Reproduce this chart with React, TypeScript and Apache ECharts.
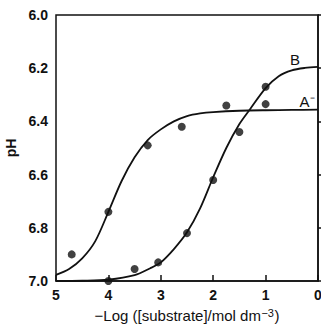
import React, { useEffect, useRef } from "react";
import * as echarts from "echarts";

// Curve A- (fitted line): [-log[S], pH]
const curveAX = [0, 0.5, 1.0, 1.5, 2.0, 2.25, 2.5, 2.75, 3.0, 3.25, 3.5, 3.75, 4.0, 4.25, 4.5, 4.75, 5];
const curveAY = [6.356, 6.357, 6.358, 6.36, 6.365, 6.37, 6.38, 6.4, 6.43, 6.47, 6.535, 6.625, 6.74, 6.85, 6.915, 6.955, 6.977];
// Curve B (fitted line)
const curveBX = [0, 0.25, 0.5, 0.75, 1.0, 1.3, 1.5, 1.75, 2.0, 2.25, 2.5, 2.75, 3.0, 3.2, 3.5, 4.0, 4.5, 5];
const curveBY = [6.195, 6.199, 6.208, 6.23, 6.275, 6.355, 6.41, 6.5, 6.61, 6.727, 6.817, 6.88, 6.93, 6.952, 6.978, 6.995, 6.999, 7.0];
// Measured points
const pointsAX = [4.7, 4.0, 3.25, 2.6, 1.75, 1.0];
const pointsAY = [6.9, 6.74, 6.49, 6.42, 6.34, 6.335];
const pointsBX = [4.0, 3.5, 3.05, 2.5, 2.0, 1.5, 1.0];
const pointsBY = [7.0, 6.955, 6.93, 6.82, 6.62, 6.44, 6.27];

const xTicks = [0, 1, 2, 3, 4, 5];
const yTicks = [6.0, 6.2, 6.4, 6.6, 6.8, 7.0];

const zip = (xs: number[], ys: number[]) => xs.map((x, i) => [x, ys[i]]);

export default function App() {
  const ref = useRef<HTMLDivElement>(null);
  useEffect(() => {
    const chart = echarts.init(ref.current!, null, { renderer: "svg" });
    const font = "Liberation Sans, Arial, sans-serif";
    chart.setOption({
      animation: false,
      grid: {
        left: 56,
        top: 15,
        right: 3,
        bottom: 43,
        containLabel: false,
        outerBoundsMode: "none",
        show: true,
        borderColor: "#111",
        borderWidth: 1.5,
      },
      xAxis: {
        type: "value",
        min: xTicks[0],
        max: xTicks[xTicks.length - 1],
        interval: 1,
        inverse: true,
        name: "{n|\u2212Log ([substrate]/mol dm}{s|\u22123}{n|)}",
        nameLocation: "middle",
        nameGap: 26,
        nameTextStyle: {
          fontFamily: font,
          fontSize: 15,
          color: "#111",
          rich: {
            n: { fontFamily: font, fontSize: 15, color: "#111", padding: [0, 0.5, 0, 0.5] },
            s: { fontFamily: font, fontSize: 11, color: "#111", verticalAlign: "top", padding: [0, 0, 6, 0] },
          },
        },
        axisLine: { show: true, lineStyle: { color: "#111", width: 1.5 } },
        axisTick: { show: true, inside: true, length: 6, lineStyle: { color: "#111", width: 1.5 } },
        axisLabel: { fontFamily: font, fontSize: 14, fontWeight: "bold", color: "#111", margin: 7 },
        splitLine: { show: false },
      },
      yAxis: {
        type: "value",
        min: yTicks[0],
        max: yTicks[yTicks.length - 1],
        interval: 0.2,
        inverse: true,
        name: "pH",
        nameLocation: "middle",
        nameGap: 35,
        nameRotate: 90,
        nameTextStyle: { fontFamily: font, fontSize: 14, fontWeight: "bold", color: "#111" },
        axisLine: { show: true, lineStyle: { color: "#111", width: 1.5 } },
        axisTick: { show: true, inside: true, length: 6, lineStyle: { color: "#111", width: 1.5 } },
        axisLabel: {
          fontFamily: font,
          fontSize: 14,
          fontWeight: "bold",
          color: "#111",
          margin: 8,
          formatter: (v: number) => v.toFixed(1),
        },
        splitLine: { show: false },
      },
      series: [
        {
          type: "line",
          data: zip(curveAX, curveAY),
          smooth: 0.3,
          showSymbol: false,
          lineStyle: { color: "#111", width: 1.8 },
          markPoint: {
            symbol: "circle",
            symbolSize: 0,
            label: {
              show: true,
              position: "inside",
              formatter: "A\u207B",
              fontFamily: font,
              fontSize: 15,
              color: "#111",
            },
            data: [{ coord: [0.21, 6.326] }],
          },
        },
        {
          type: "line",
          data: zip(curveBX, curveBY),
          smooth: 0.3,
          showSymbol: false,
          lineStyle: { color: "#111", width: 1.8 },
          markPoint: {
            symbol: "circle",
            symbolSize: 0,
            label: {
              show: true,
              position: "inside",
              formatter: "B",
              fontFamily: font,
              fontSize: 15,
              color: "#111",
            },
            data: [{ coord: [0.44, 6.169] }],
          },
        },
        {
          type: "scatter",
          data: zip(pointsAX, pointsAY),
          symbolSize: 8,
          itemStyle: { color: "#111" },
        },
        {
          type: "scatter",
          data: zip(pointsBX, pointsBY),
          symbolSize: 8,
          itemStyle: { color: "#111" },
        },
      ],
    });
    return () => chart.dispose();
  }, []);
  return <div ref={ref} style={{ width: 321, height: 324, position: "absolute", left: 0, top: 0 }} />;
}
